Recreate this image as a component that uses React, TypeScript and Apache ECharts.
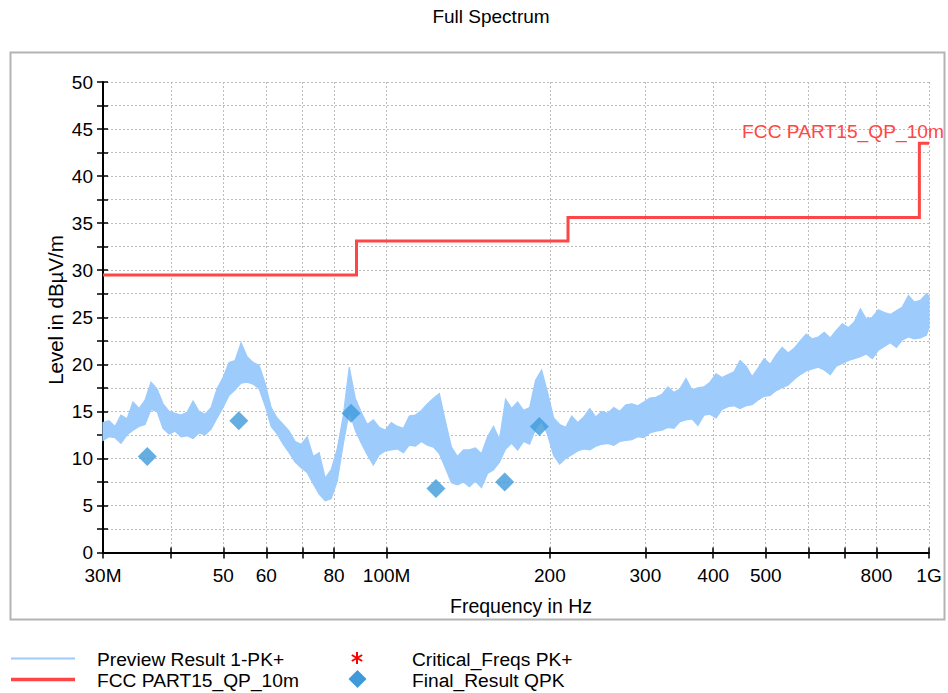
import React, { useEffect, useRef } from 'react';
import * as echarts from 'echarts';

// Preview scan (peak detector): upper and lower edge of the noise band, per frequency (MHz)
const FREQ_MHZ = [
  30.0, 30.77, 31.57, 32.38, 33.22, 34.07, 34.95, 35.86, 36.78, 37.73, 38.71, 39.71, 40.73, 41.78,
  42.86, 43.97, 45.1, 46.27, 47.46, 48.69, 49.94, 51.23, 52.56, 53.91, 55.31, 56.73, 58.2, 59.7,
  61.25, 62.83, 64.45, 66.12, 67.82, 69.58, 71.37, 73.22, 75.11, 77.05, 79.04, 81.09, 83.18, 85.33,
  87.54, 89.8, 92.12, 94.51, 96.95, 99.46, 102.0, 104.7, 107.4, 110.1, 113.0, 115.9, 118.9, 122.0,
  125.1, 128.3, 131.7, 135.1, 138.6, 142.1, 145.8, 149.6, 153.5, 157.4, 161.5, 165.7, 170.0, 174.4,
  178.9, 183.5, 188.2, 193.1, 198.1, 203.2, 208.5, 213.9, 219.4, 225.1, 230.9, 236.9, 243.0, 249.3,
  255.7, 262.3, 269.1, 276.1, 283.2, 290.5, 298.0, 305.7, 313.6, 321.8, 330.1, 338.6, 347.4, 356.4,
  365.6, 375.0, 384.7, 394.7, 404.9, 415.4, 426.1, 437.1, 448.4, 460.0, 471.9, 484.1, 496.6, 509.5,
  522.6, 536.2, 550.0, 564.3, 578.8, 593.8, 609.2, 624.9, 641.1, 657.6, 674.6, 692.1, 710.0, 728.3,
  747.1, 766.4, 786.2, 806.6, 827.4, 848.8, 870.7, 893.3, 916.3, 940.0, 964.3, 989.3, 1000,
];
const PEAK_HI = [
  13.8, 14.0, 13.4, 14.6, 14.2, 16.0, 15.3, 16.2, 18.1, 17.4, 15.8, 15.0, 14.8, 14.6,
  14.9, 16.1, 15.0, 14.7, 15.4, 17.4, 18.6, 20.2, 20.4, 22.3, 20.8, 20.2, 19.9, 18.0,
  15.4, 14.3, 13.6, 12.9, 11.8, 11.5, 12.3, 10.2, 10.6, 7.9, 8.8, 11.0, 14.5, 19.7,
  16.4, 14.9, 13.6, 14.1, 13.3, 13.0, 13.8, 13.4, 13.2, 14.5, 14.6, 15.1, 15.8, 16.4,
  16.9, 14.0, 11.2, 10.2, 10.9, 10.9, 11.1, 10.5, 12.3, 13.4, 12.0, 16.3, 15.3, 16.0,
  15.1, 15.4, 18.3, 19.4, 17.0, 14.3, 13.6, 13.3, 14.5, 13.8, 14.4, 15.3, 14.4, 15.0,
  14.8, 15.4, 15.0, 15.7, 15.8, 15.6, 16.0, 16.4, 16.5, 16.8, 17.6, 17.0, 17.4, 18.5,
  17.3, 17.5, 17.6, 18.1, 19.0, 18.6, 18.9, 19.2, 20.4, 19.8, 18.7, 19.6, 20.6, 20.0,
  21.0, 21.8, 21.2, 21.7, 22.5, 23.2, 22.7, 22.9, 23.4, 22.8, 23.6, 24.3, 23.9, 24.5,
  25.9, 24.8, 25.0, 25.8, 25.5, 25.3, 25.7, 26.1, 27.3, 26.6, 26.8, 27.5, 27.2,
];
const PEAK_LO = [
  11.9, 12.3, 12.2, 11.6, 12.5, 13.0, 13.4, 13.6, 15.2, 15.0, 13.2, 12.6, 12.9, 12.3,
  12.4, 12.1, 12.7, 12.5, 13.1, 14.3, 15.4, 16.7, 17.3, 18.0, 18.1, 17.9, 17.4, 15.6,
  13.4, 12.6, 11.5, 10.6, 9.6, 9.0, 8.5, 7.3, 6.2, 5.5, 5.7, 7.6, 11.5, 15.0,
  13.0, 11.6, 10.4, 9.3, 10.4, 10.8, 10.9, 11.0, 10.6, 11.4, 11.3, 11.8, 11.4, 11.2,
  10.5, 9.0, 7.4, 7.2, 7.5, 7.0, 7.6, 6.9, 8.4, 8.8, 9.6, 11.0, 11.6, 10.9,
  11.8, 11.5, 13.1, 14.0, 12.5, 10.3, 9.4, 10.0, 10.4, 10.8, 11.0, 10.9, 11.3, 11.5,
  11.6, 11.4, 11.8, 11.9, 12.0, 12.3, 12.2, 12.7, 12.9, 13.0, 13.3, 13.2, 13.9, 14.1,
  14.2, 13.5, 14.6, 14.7, 14.3, 15.2, 15.5, 15.6, 15.3, 15.6, 15.7, 16.2, 16.6, 16.7,
  17.2, 17.5, 17.8, 18.4, 18.9, 19.3, 19.5, 19.7, 19.4, 18.9, 19.8, 20.1, 20.4, 20.6,
  20.8, 21.1, 20.6, 21.5, 21.9, 22.3, 21.8, 22.6, 22.9, 22.7, 22.8, 23.1, 23.9,
];

// FCC Part 15 class B limit, 10 m distance (step corners)
const LIMIT_FREQ = [30, 88, 88, 216, 216, 960, 960, 1000];
const LIMIT_LEVEL = [29.5, 29.5, 33.1, 33.1, 35.6, 35.6, 43.5, 43.5];

// Final quasi-peak measurements
const QPK_FREQ = [36.2, 53.4, 86.0, 123.3, 165.1, 191.2];
const QPK_LEVEL = [10.2, 14.0, 14.8, 6.8, 7.5, 13.4];

// Frequency axis ticks (MHz) and their labels
const TICK_FREQ = [30, 40, 50, 60, 70, 80, 100, 200, 300, 400, 500, 600, 700, 800, 1000];
const TICK_LABEL = ['30M', '', '50', '60', '', '80', '100M', '200', '300', '400', '500', '', '', '800', '1G'];

const FONT = '"Liberation Sans", Arial, Helvetica, sans-serif';
const FS = 19.2;
const BAND = '#9CCBFC';
const LIMIT_RED = '#FF4646';
const QPK_BLUE = '#3F9ADB';
const GRID_GRAY = '#BDBDBD';

const lg = (mhz: number) => Math.log10(mhz);

export default function App() {
  const ref = useRef<HTMLDivElement>(null);

  useEffect(() => {
    if (!ref.current) return;
    const chart = echarts.init(ref.current, undefined, { renderer: 'svg' });

    const tickVals = TICK_FREQ.map(lg);
    const tickLabel = (v: number) => {
      const i = tickVals.findIndex((t) => Math.abs(t - v) < 1e-6);
      return i >= 0 ? TICK_LABEL[i] : '';
    };

    const bandData = FREQ_MHZ.map((f, i) => [lg(f), PEAK_HI[i], PEAK_LO[i]]);

    const text = (x: number, y: number, s: string, extra: any = {}) => ({
      type: 'text',
      silent: true,
      x,
      y,
      ...extra,
      style: { text: s, fill: '#000', fontSize: FS, fontFamily: FONT, verticalAlign: 'middle', ...(extra.style || {}) },
    });

    const option: any = {
      animation: false,
      textStyle: { fontFamily: FONT },
      grid: { left: 103, top: 82, width: 826, height: 470.5, containLabel: false },
      xAxis: [
        {
          type: 'value',
          min: lg(30),
          max: lg(1000),
          axisLine: { show: true, onZero: false, lineStyle: { color: '#000', width: 2 } },
          axisTick: { show: true, customValues: tickVals, length: 6, lineStyle: { color: '#000', width: 1.5 } },
          axisLabel: {
            customValues: tickVals,
            formatter: tickLabel,
            color: '#000',
            fontSize: 19,
            fontFamily: FONT,
            margin: 13,
            showMinLabel: true,
            showMaxLabel: true,
          },
          splitLine: { show: true, lineStyle: { color: GRID_GRAY, width: 1, type: [2, 2] } },
        },
        {
          type: 'value',
          position: 'top',
          offset: -470.5,
          min: lg(30),
          max: lg(1000),
          axisLine: { show: false, onZero: false },
          axisTick: { show: true, customValues: tickVals, length: 5, lineStyle: { color: '#000', width: 1.5 } },
          axisLabel: { show: false },
          splitLine: { show: false },
        },
      ],
      yAxis: [
        {
          type: 'value',
          min: 0,
          max: 50,
          interval: 2.5,
          axisLine: { show: true, onZero: false, lineStyle: { color: '#000', width: 2 } },
          axisTick: { show: true, length: 6, lineStyle: { color: '#000', width: 1.5 } },
          axisLabel: {
            formatter: (v: number) => (Math.abs(v % 5) < 1e-6 ? String(v) : ''),
            color: '#000',
            fontSize: 19,
            fontFamily: FONT,
            margin: 10,
          },
          splitLine: { show: true, lineStyle: { color: GRID_GRAY, width: 1, type: [2, 2] } },
        },
        {
          type: 'value',
          position: 'right',
          offset: -826,
          min: 0,
          max: 50,
          interval: 2.5,
          axisLine: { show: false, onZero: false },
          axisTick: { show: true, length: 5, lineStyle: { color: '#000', width: 1.5 } },
          axisLabel: { show: false },
          splitLine: { show: false },
        },
      ],
      series: [
        {
          name: 'Preview Result 1-PK+',
          type: 'custom',
          xAxisIndex: 0,
          yAxisIndex: 0,
          data: bandData,
          encode: { x: 0, y: [1, 2] },
          silent: true,
          z: 2,
          renderItem: (params: any, api: any) => {
            if (params.dataIndex !== 0) return null;
            const upper = bandData.map((d) => api.coord([d[0], d[1]]));
            const lower = bandData.map((d) => api.coord([d[0], d[2]])).reverse();
            return {
              type: 'polygon',
              shape: { points: upper.concat(lower) },
              style: { fill: BAND, stroke: BAND, lineWidth: 1.2, lineJoin: 'miter' },
            };
          },
        },
        {
          name: 'FCC PART15_QP_10m',
          type: 'line',
          xAxisIndex: 0,
          yAxisIndex: 0,
          data: LIMIT_FREQ.map((f, i) => [lg(f), LIMIT_LEVEL[i]]),
          showSymbol: false,
          symbol: 'none',
          silent: true,
          z: 3,
          lineStyle: { color: LIMIT_RED, width: 3, join: 'miter' },
        },
        {
          name: 'Final_Result QPK',
          type: 'scatter',
          xAxisIndex: 0,
          yAxisIndex: 0,
          data: QPK_FREQ.map((f, i) => [lg(f), QPK_LEVEL[i]]),
          symbol: 'diamond',
          symbolSize: [19, 19],
          silent: true,
          z: 4,
          itemStyle: { color: QPK_BLUE },
        },
      ],
      graphic: [
        // outer frame
        {
          type: 'rect',
          z: -10,
          silent: true,
          shape: { x: 10.5, y: 52.5, width: 934, height: 567 },
          style: { fill: 'none', stroke: '#B4B4B4', lineWidth: 2 },
        },
        text(491, 16, 'Full Spectrum', { style: { fontSize: 19, align: 'center' } }),
        text(55, 310, 'Level in dBµV/m', { rotation: Math.PI / 2, style: { fontSize: 20.5, align: 'center' } }),
        text(521, 606, 'Frequency in Hz', { style: { fontSize: 19.5, align: 'center' } }),
        text(944, 131.5, 'FCC PART15_QP_10m', { z: 5, style: { fill: LIMIT_RED, align: 'right' } }),
        // legend
        {
          type: 'line',
          silent: true,
          shape: { x1: 11, y1: 658.5, x2: 75, y2: 658.5 },
          style: { stroke: BAND, lineWidth: 2 },
        },
        {
          type: 'line',
          silent: true,
          shape: { x1: 11, y1: 679.5, x2: 75, y2: 679.5 },
          style: { stroke: LIMIT_RED, lineWidth: 3.5 },
        },
        text(97, 659, 'Preview Result 1-PK+'),
        text(97, 680, 'FCC PART15_QP_10m'),
        {
          type: 'group',
          silent: true,
          x: 357,
          y: 658,
          children: [
            { type: 'line', shape: { x1: 0, y1: -6, x2: 0, y2: 6 }, style: { stroke: '#FF0000', lineWidth: 2 } },
            { type: 'line', shape: { x1: -5.2, y1: -3, x2: 5.2, y2: 3 }, style: { stroke: '#FF0000', lineWidth: 2 } },
            { type: 'line', shape: { x1: -5.2, y1: 3, x2: 5.2, y2: -3 }, style: { stroke: '#FF0000', lineWidth: 2 } },
          ],
        },
        {
          type: 'polygon',
          silent: true,
          shape: { points: [[357.5, 670], [366.5, 679], [357.5, 688], [348.5, 679]] },
          style: { fill: QPK_BLUE },
        },
        text(412, 659, 'Critical_Freqs PK+'),
        text(412, 680, 'Final_Result QPK'),
      ],
    };

    chart.setOption(option);
    return () => chart.dispose();
  }, []);

  return (
    <div
      ref={ref}
      style={{ position: 'fixed', left: 0, top: 0, width: 948, height: 693, background: '#fff' }}
    />
  );
}
